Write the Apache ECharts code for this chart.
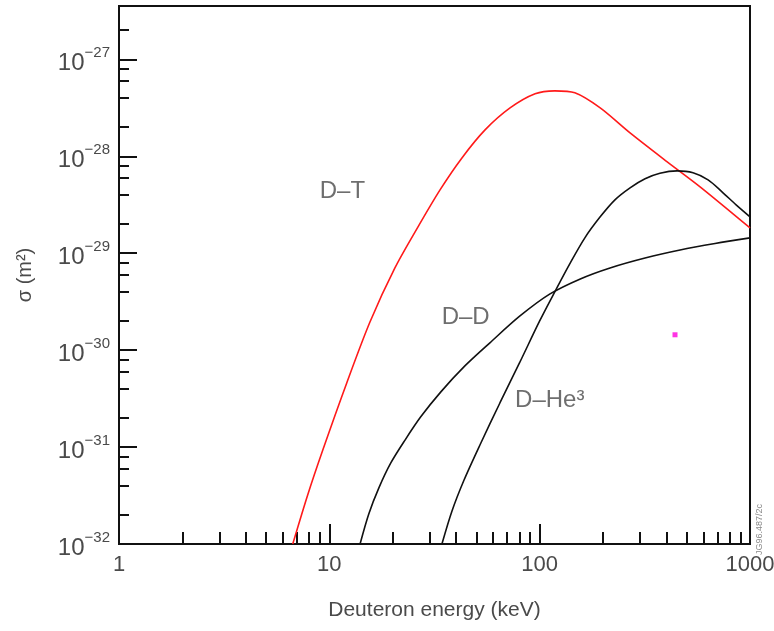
<!DOCTYPE html>
<html>
<head>
<meta charset="utf-8">
<script src="https://cdn.jsdelivr.net/npm/echarts@6/dist/echarts.min.js"></script>
<style>
  html, body { margin: 0; padding: 0; background: #fff; }
  #chart { width: 774px; height: 631px; }
</style>
</head>
<body>
<div id="chart"></div>
<script>
// deuteron energy (keV) and cross section (m^2)
var dtEnergy = [6.70, 7.89, 9.31, 12.1, 15.6, 20.5, 26.4, 33.6, 42.7, 55.0, 72.3, 95.1, 118, 147, 194, 269, 404, 579, 1000];
var dtSigma = [1.0e-32, 3.21e-32, 9.33e-32, 4.59e-31, 1.95e-30, 7.05e-30, 1.87e-29, 4.50e-29, 9.61e-29, 1.87e-28, 3.15e-28, 4.41e-28, 4.73e-28, 4.51e-28, 3.15e-28, 1.74e-28, 8.75e-29, 4.83e-29, 1.82e-29];

var ddEnergy = [14.0, 15.4, 17.2, 19.6, 22.9, 27.2, 33.9, 44.1, 58.0, 80.6, 112, 156, 216, 317, 465, 682, 1000];
var ddSigma = [1.0e-32, 2.04e-32, 3.79e-32, 6.85e-32, 1.18e-31, 2.05e-31, 3.71e-31, 6.87e-31, 1.19e-30, 2.25e-30, 3.80e-30, 5.43e-30, 7.05e-30, 8.93e-30, 1.08e-29, 1.26e-29, 1.44e-29];

var dheEnergy = [34.3, 38.3, 43.7, 52.0, 64.7, 80.6, 100, 118, 139, 164, 194, 228, 269, 317, 373, 450, 536, 632, 736, 859, 1000];
var dheSigma = [1.0e-32, 2.19e-32, 4.57e-32, 1.05e-31, 2.85e-31, 7.55e-31, 2.00e-30, 3.99e-30, 7.76e-30, 1.44e-29, 2.37e-29, 3.55e-29, 4.72e-29, 5.85e-29, 6.67e-29, 7.06e-29, 6.75e-29, 5.70e-29, 4.30e-29, 3.15e-29, 2.37e-29];

var curveLabels = ['D\u2013T', 'D\u2013D', 'D\u2013He\u00b3'];
var curveLabelEnergy = [9.0, 34.2, 76.4];
var curveLabelSigma = [4.3e-29, 2.2e-30, 3.0e-31];

var markerEnergy = [440];
var markerSigma = [1.44e-30];

var xTickLabels = ['1', '10', '100', '1000'];
var xMinorMultipliers = [2, 3, 4, 5, 6, 7, 8, 9];
var yMinorMultipliers = [2, 4, 6, 8];
var yMinExp = -32;
var yMaxExp = -26.45;

function toLog(xs, ys) {
    return xs.map(function (x, i) {
        return [Math.log10(x), Math.log10(ys[i])];
    });
}

function minorValues(lo, hi, mults) {
    var out = [];
    for (var e = Math.floor(lo); e < Math.ceil(hi); e++) {
        mults.forEach(function (m) {
            var v = e + Math.log10(m);
            if (v > lo && v < hi) out.push(v);
        });
    }
    return out;
}

var font = '"Liberation Sans", Arial, sans-serif';
var labelColor = '#4a4a4a';

var chart = echarts.init(document.getElementById('chart'), null, { renderer: 'canvas' });

var option = {
    backgroundColor: '#fff',
    animation: false,
    grid: {
        left: 119, right: 24, top: 6, bottom: 87,
        outerBoundsMode: 'none',
        show: true, borderColor: '#111', borderWidth: 2, backgroundColor: 'transparent'
    },
    xAxis: [
        {
            type: 'value', min: 0, max: 3, interval: 1,
            name: 'Deuteron energy (keV)', nameLocation: 'middle', nameGap: 56,
            nameTextStyle: { color: labelColor, fontSize: 21, fontFamily: font },
            axisLine: { show: true, lineStyle: { color: '#111', width: 2 } },
            axisTick: { show: true, inside: true, length: 20, lineStyle: { color: '#111', width: 2 } },
            axisLabel: {
                color: labelColor, fontSize: 22, fontFamily: font, margin: 10,
                formatter: function (v) { return xTickLabels[Math.round(v)]; }
            },
            splitLine: { show: false }
        },
        {
            type: 'value', min: 0, max: 3, position: 'bottom', offset: 0,
            axisLine: { show: false },
            axisTick: {
                show: true, inside: true, length: 12,
                customValues: minorValues(0, 3, xMinorMultipliers),
                lineStyle: { color: '#111', width: 2 }
            },
            axisLabel: { show: false },
            splitLine: { show: false }
        }
    ],
    yAxis: [
        {
            type: 'value', min: yMinExp, max: yMaxExp, interval: 1,
            name: '\u03c3 (m\u00b2)', nameLocation: 'middle', nameGap: 84, nameRotate: 90,
            nameTextStyle: { color: labelColor, fontSize: 20, fontFamily: font },
            axisLine: { show: true, lineStyle: { color: '#111', width: 2 } },
            axisTick: { show: true, inside: true, length: 18, lineStyle: { color: '#111', width: 2 } },
            axisLabel: {
                margin: 9,
                formatter: function (v) {
                    if (Math.abs(v - Math.round(v)) > 1e-6) return '';
                    return '{b|10}{s|\u2212' + Math.abs(Math.round(v)) + '}';
                },
                rich: {
                    b: { color: labelColor, fontSize: 24, fontFamily: font, lineHeight: 28, padding: [8, 0, 0, 0] },
                    s: { color: labelColor, fontSize: 15, fontFamily: font, lineHeight: 28, verticalAlign: 'top', padding: [0, 0, 10, 0] }
                }
            },
            splitLine: { show: false }
        },
        {
            type: 'value', min: yMinExp, max: yMaxExp, position: 'left', offset: 0,
            axisLine: { show: false },
            axisTick: {
                show: true, inside: true, length: 10,
                customValues: minorValues(yMinExp, yMaxExp, yMinorMultipliers),
                lineStyle: { color: '#111', width: 2 }
            },
            axisLabel: { show: false },
            splitLine: { show: false }
        }
    ],
    graphic: [
        {
            type: 'text', x: 755, y: 555, rotation: Math.PI / 2,
            style: { text: 'JG96.487/2c', fontSize: 9, fontFamily: font, fill: '#8a8a8a' }
        }
    ],
    series: [
        {
            name: 'D-T', type: 'line', data: toLog(dtEnergy, dtSigma),
            showSymbol: false, smooth: 0.3, clip: true,
            lineStyle: { color: '#ff1a1a', width: 1.6 }
        },
        {
            name: 'D-D', type: 'line', data: toLog(ddEnergy, ddSigma),
            showSymbol: false, smooth: 0.3, clip: true,
            lineStyle: { color: '#111', width: 1.6 }
        },
        {
            name: 'D-He3', type: 'line', data: toLog(dheEnergy, dheSigma),
            showSymbol: false, smooth: 0.3, clip: true,
            lineStyle: { color: '#111', width: 1.6 }
        },
        {
            name: 'labels', type: 'scatter', symbolSize: 0, silent: true,
            data: curveLabels.map(function (t, i) {
                return { name: t, value: [Math.log10(curveLabelEnergy[i]), Math.log10(curveLabelSigma[i])] };
            }),
            label: {
                show: true, position: 'right', distance: 0,
                formatter: '{b}', color: labelColor, fontSize: 24, fontFamily: font
            }
        },
        {
            name: 'marker', type: 'scatter', symbol: 'rect', symbolSize: 5,
            data: toLog(markerEnergy, markerSigma),
            itemStyle: { color: '#ff00dd' }
        }
    ]
};

chart.setOption(option);
</script>
</body>
</html>
